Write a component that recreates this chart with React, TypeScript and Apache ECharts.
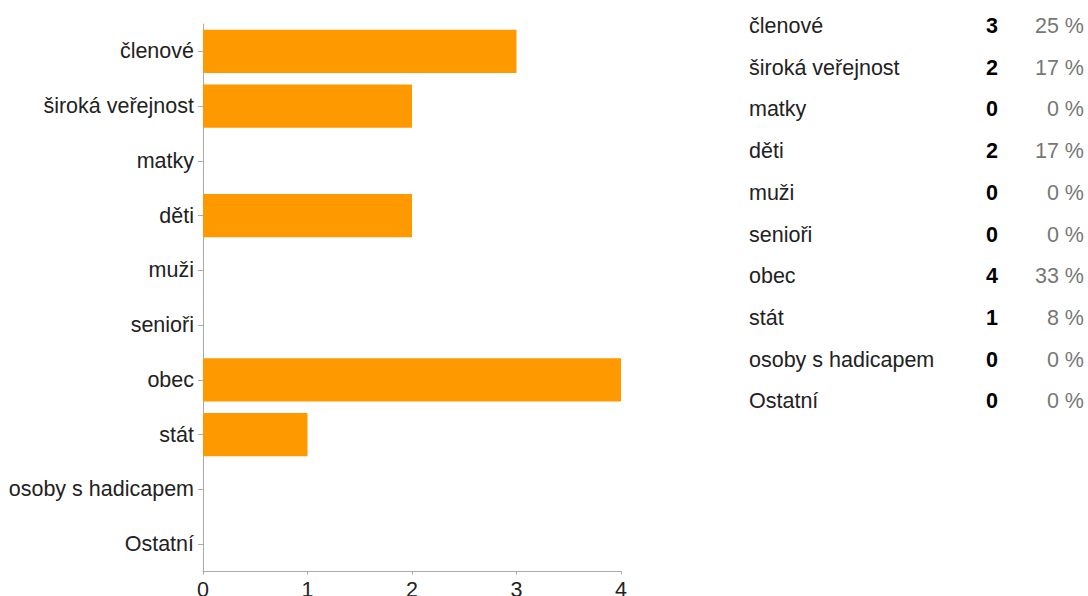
import React, { useEffect, useRef } from "react";
import * as echarts from "echarts";

const categories = [
  "členové",
  "široká veřejnost",
  "matky",
  "děti",
  "muži",
  "senioři",
  "obec",
  "stát",
  "osoby s hadicapem",
  "Ostatní",
];
const counts = [3, 2, 0, 2, 0, 0, 4, 1, 0, 0];
const percents = ["25 %", "17 %", "0 %", "17 %", "0 %", "0 %", "33 %", "8 %", "0 %", "0 %"];
const xTicks = [0, 1, 2, 3, 4];

const FONT = "Arial, 'Liberation Sans', sans-serif";

export default function App() {
  const ref = useRef<HTMLDivElement>(null);
  useEffect(() => {
    if (!ref.current) return;
    const chart = echarts.init(ref.current, null, { renderer: "svg" });
    const rowTop = 26;
    const rowStep = 41.7;
    const tableTexts: any[] = [];
    categories.forEach((c, i) => {
      const y = rowTop + i * rowStep;
      tableTexts.push({
        type: "text",
        x: 749,
        y,
        style: { text: c, fill: "#222", font: `21.5px ${FONT}`, textAlign: "left", textVerticalAlign: "middle" },
      });
      tableTexts.push({
        type: "text",
        x: 998,
        y,
        style: { text: String(counts[i]), fill: "#000", font: `bold 21.5px ${FONT}`, textAlign: "right", textVerticalAlign: "middle" },
      });
      tableTexts.push({
        type: "text",
        x: 1084,
        y,
        style: { text: percents[i], fill: "#777", font: `21.5px ${FONT}`, textAlign: "right", textVerticalAlign: "middle" },
      });
    });
    chart.setOption({
      animation: false,
      backgroundColor: "#fff",
      grid: {
        left: 203,
        right: 467,
        top: 24,
        bottom: 24.5,
        containLabel: false,
        outerBoundsMode: "none",
      },
      xAxis: {
        type: "value",
        min: xTicks[0],
        max: xTicks[xTicks.length - 1],
        interval: 1,
        axisLine: { show: true, lineStyle: { color: "#aaa", width: 1 } },
        axisTick: { show: true, length: 3, lineStyle: { color: "#aaa" } },
        axisLabel: { color: "#222", fontSize: 21.5, fontFamily: FONT, margin: 7 },
        splitLine: { show: false },
      },
      yAxis: {
        type: "category",
        inverse: true,
        data: categories,
        axisLine: { show: true, lineStyle: { color: "#aaa", width: 1 } },
        axisTick: { show: true, alignWithLabel: true, length: 5, lineStyle: { color: "#aaa" } },
        axisLabel: { color: "#222", fontSize: 21.5, fontFamily: FONT, margin: 9 },
      },
      series: [
        {
          type: "bar",
          data: counts,
          barCategoryGap: "21%",
          itemStyle: { color: "#ff9900", borderWidth: 0 },
        },
      ],
      graphic: tableTexts,
    });
    return () => chart.dispose();
  }, []);
  return (
    <div
      ref={ref}
      style={{ position: "fixed", left: 0, top: 0, width: 1088, height: 596, background: "#fff" }}
    />
  );
}
